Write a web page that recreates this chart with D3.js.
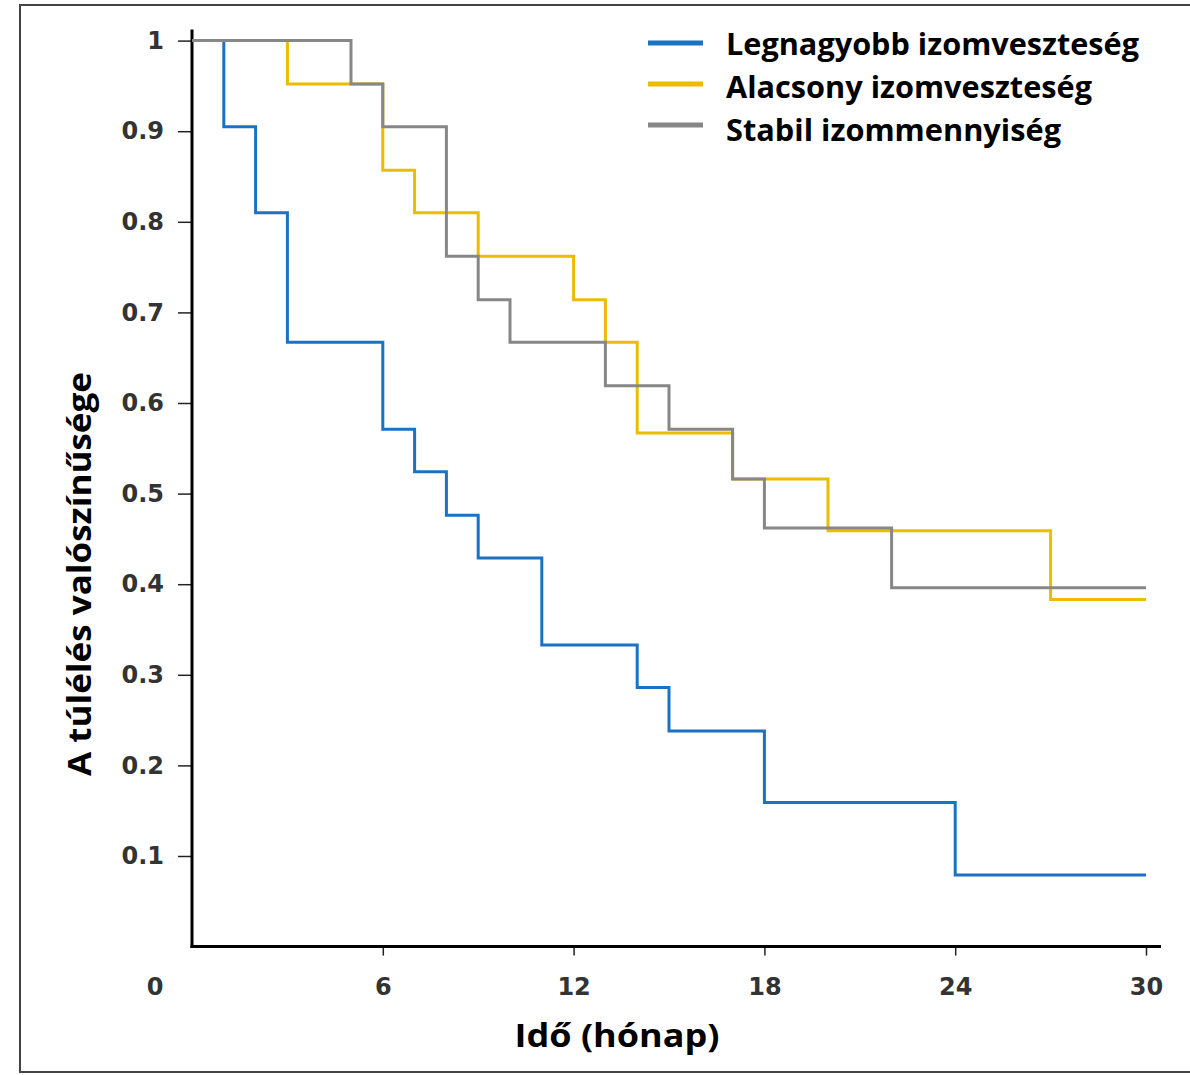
<!DOCTYPE html>
<html>
<head>
<meta charset="utf-8">
<script src="https://cdn.jsdelivr.net/npm/d3@7"></script>
<style>
  body { margin: 0; background: #fff; }
  .tick text, .zero { font-family: "DejaVu Sans", sans-serif; font-weight: bold; font-size: 24px; fill: #333; }
  .lbl { font-family: "Open Sans", sans-serif; font-weight: 700; fill: #000; }
</style>
</head>
<body>
<script>
// survival curves (time in months, survival probability)
var blueTimes = [0, 1, 2, 3, 6, 7, 8, 9, 11, 14, 15, 18, 24, 30];
var blueSurv  = [1, 0.905, 0.81, 0.667, 0.571, 0.524, 0.476, 0.429, 0.333, 0.286, 0.238, 0.159, 0.079, 0.079];

var yellowTimes = [0, 3, 6, 7, 9, 12, 13, 14, 17, 20, 27, 30];
var yellowSurv  = [1, 0.952, 0.857, 0.81, 0.762, 0.714, 0.667, 0.567, 0.516, 0.459, 0.383, 0.383];

var grayTimes = [0, 5, 6, 8, 9, 10, 13, 15, 17, 18, 22, 30];
var graySurv  = [1, 0.952, 0.905, 0.762, 0.714, 0.667, 0.619, 0.571, 0.516, 0.462, 0.396, 0.396];

var seriesNames = ["Legnagyobb izomveszteség", "Alacsony izomveszteség", "Stabil izommennyiség"];
var seriesColors = ["#1b72c2", "#ecbc00", "#878787"];
var legendWidths = [413, 366, 335];

var xTicks = [6, 12, 18, 24, 30];
var yTicks = [0.1, 0.2, 0.3, 0.4, 0.5, 0.6, 0.7, 0.8, 0.9, 1];

var W = 1190, H = 1075;

var svg = d3.select("body").append("svg")
    .attr("width", W)
    .attr("height", H);

// frame of the picture
svg.append("path")
    .attr("d", "M1190,5 H20 V1072 H1190")
    .attr("fill", "none")
    .attr("stroke", "#444")
    .attr("stroke-width", 2);

var x = d3.scaleLinear().domain([0, 30]).range([192, 1146]);
var y = d3.scaleLinear().domain([0, 1]).range([946.6, 40.6]);

// y axis
var yAxis = svg.append("g")
    .attr("transform", "translate(" + x(0) + ",0)")
    .call(d3.axisLeft(y).tickValues(yTicks).tickSize(14).tickPadding(14)
        .tickFormat(function(d) { return d === 1 ? "1" : d3.format(".1f")(d); }));
yAxis.select(".domain").remove();
yAxis.selectAll(".tick line").attr("stroke", "#222").attr("stroke-width", 1.5);

// x axis
var xAxis = svg.append("g")
    .attr("transform", "translate(0," + y(0) + ")")
    .call(d3.axisBottom(x).tickValues(xTicks).tickSize(9).tickPadding(22));
xAxis.select(".domain").remove();
xAxis.selectAll(".tick line").attr("stroke", "#222").attr("stroke-width", 1.5);

svg.append("text")
    .attr("class", "zero")
    .attr("x", x(0) - 37)
    .attr("y", y(0) + 48)
    .attr("text-anchor", "middle")
    .text("0");

// axis lines
svg.append("line")
    .attr("x1", x(0)).attr("x2", x(0))
    .attr("y1", y(1) - 11).attr("y2", y(0) + 1.5)
    .attr("stroke", "#000").attr("stroke-width", 3);
svg.append("line")
    .attr("x1", x(0) - 1.5).attr("x2", x(30) + 15)
    .attr("y1", y(0)).attr("y2", y(0))
    .attr("stroke", "#000").attr("stroke-width", 3);

// curves
var line = d3.line()
    .x(function(d) { return x(d[0]); })
    .y(function(d) { return y(d[1]); })
    .curve(d3.curveStepAfter);

var curves = [
  d3.zip(blueTimes, blueSurv),
  d3.zip(yellowTimes, yellowSurv),
  d3.zip(grayTimes, graySurv)
];

svg.selectAll(".curve")
    .data(curves)
    .enter().append("path")
    .attr("class", "curve")
    .attr("d", line)
    .attr("fill", "none")
    .attr("stroke", function(d, i) { return seriesColors[i]; })
    .attr("stroke-width", 3);

// legend
var legend = svg.selectAll(".legend")
    .data(seriesNames)
    .enter().append("g")
    .attr("class", "legend");

legend.append("line")
    .attr("x1", 648).attr("x2", 703)
    .attr("y1", function(d, i) { return 43 + i * 41; })
    .attr("y2", function(d, i) { return 43 + i * 41; })
    .attr("stroke", function(d, i) { return seriesColors[i]; })
    .attr("stroke-width", 5);

legend.append("text")
    .attr("class", "lbl")
    .attr("x", 726)
    .attr("y", function(d, i) { return 55 + i * 43; })
    .attr("textLength", function(d, i) { return legendWidths[i]; })
    .attr("lengthAdjust", "spacingAndGlyphs")
    .style("font-size", "30px")
    .text(function(d) { return d; });

// axis titles
svg.append("text")
    .attr("class", "lbl")
    .attr("transform", "translate(91,574) rotate(-90)")
    .attr("text-anchor", "middle")
    .attr("textLength", 404)
    .attr("lengthAdjust", "spacingAndGlyphs")
    .style("font-size", "32px")
    .text("A túlélés valószínűsége");

svg.append("text")
    .attr("class", "lbl")
    .attr("x", 617)
    .attr("y", 1047)
    .attr("text-anchor", "middle")
    .attr("textLength", 205)
    .attr("lengthAdjust", "spacingAndGlyphs")
    .style("font-size", "32px")
    .text("Idő (hónap)");
</script>
</body>
</html>
